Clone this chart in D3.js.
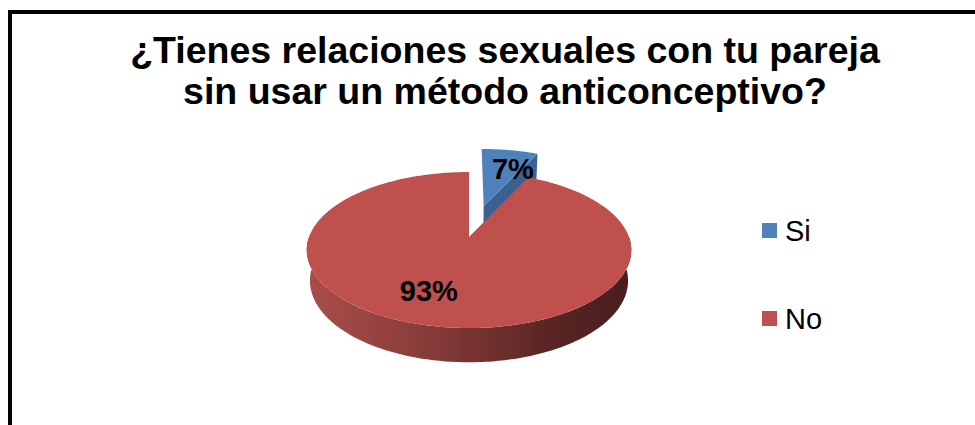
<!DOCTYPE html>
<html>
<head>
<meta charset="utf-8">
<script src="https://cdn.jsdelivr.net/npm/d3@7"></script>
<style>
  html, body { margin: 0; padding: 0; background: #fff; }
  svg { display: block; }
</style>
</head>
<body>
<svg id="chart" width="975" height="425"></svg>
<script>
// ---- data ----
const titleLines = ["¿Tienes relaciones sexuales con tu pareja", "sin usar un método anticonceptivo?"];
const categories = ["Si", "No"];
const values = [7, 93];
const valueLabels = ["7%", "93%"];

// ---- styling ----
const topColors = ["#4F81BD", "#C0504D"];
const cutColors = ["#3A6190", "#8E3B38"];
const explosion = [0.45, 0];
const font = "'Liberation Sans', Arial, Helvetica, sans-serif";

const svg = d3.select("#chart");

// frame of the chart area
svg.append("path")
  .attr("d", "M10,430 L10,12 L980,12")
  .attr("fill", "none")
  .attr("stroke", "#000")
  .attr("stroke-width", 4);

// title
svg.append("g").selectAll("text")
  .data(titleLines)
  .join("text")
  .attr("x", 505)
  .attr("y", (d, i) => 63 + i * 41)
  .attr("text-anchor", "middle")
  .attr("font-family", font)
  .attr("font-weight", "bold")
  .attr("font-size", 37.5)
  .attr("fill", "#000")
  .text(d => d);

// ---- simple perspective camera for the 3D pie ----
const view = { cx: 469, cy: 237, s: 160, D: 5.28, phi: Math.asin(0.474), h: 0.22 };
const cphi = Math.cos(view.phi), sphi = Math.sin(view.phi);
function project([x, y, z]) {
  const depth = y * cphi - z * sphi + view.D;
  const Y = y * sphi + z * cphi;
  return [view.cx + view.s * view.D * x / depth, view.cy - view.s * view.D * Y / depth];
}
const line = d3.line();

function rimPoints(a0, a1, z, o) {
  const n = Math.max(2, Math.ceil((a1 - a0) / (Math.PI / 180)) + 1);
  return d3.range(n).map(i => {
    const a = a0 + (a1 - a0) * i / (n - 1);
    return [o[0] + Math.sin(a), o[1] + Math.cos(a), z];
  });
}

const arcs = d3.pie().sort(null).value(d => d)(values);
arcs.forEach((d, i) => {
  const mid = (d.startAngle + d.endAngle) / 2;
  d.offset = [explosion[i] * Math.sin(mid), explosion[i] * Math.cos(mid)];
  d.index = i;
});

// side shading, lit from the left
const defs = svg.append("defs");
const xl = project([-1, 0, 0])[0], xr = project([1, 0, 0])[0];
const grad = defs.append("linearGradient")
  .attr("id", "sideNo")
  .attr("gradientUnits", "userSpaceOnUse")
  .attr("x1", xl).attr("x2", xr).attr("y1", 0).attr("y2", 0);
[[0, "#A84D49"], [0.3, "#8F3F3C"], [0.55, "#723130"], [0.8, "#542322"], [1, "#4A1E1D"]]
  .forEach(([o, c]) => grad.append("stop").attr("offset", o).attr("stop-color", c));

const pie = svg.append("g");
const h = view.h;

// draw far slices first, so nearer ones cover them
const order = arcs.slice().sort((a, b) => b.offset[1] - a.offset[1]);
order.forEach(d => {
  const o = d.offset;
  const g = pie.append("g");
  const centerTop = [o[0], o[1], 0], centerBot = [o[0], o[1], -h];

  // radial cut face at the clockwise edge (faces the viewer when on the far side)
  const a1 = d.endAngle;
  if (Math.cos(a1) > 0 && d.endAngle - d.startAngle < Math.PI) {
    const rt = [o[0] + Math.sin(a1), o[1] + Math.cos(a1), 0];
    const rb = [rt[0], rt[1], -h];
    g.append("path")
      .attr("d", line([centerTop, rt, rb, centerBot].map(project)) + "Z")
      .attr("fill", cutColors[d.index]);
  }

  // outer wall: only the front half is visible
  const s0 = Math.max(d.startAngle, Math.PI / 2), s1 = Math.min(d.endAngle, 3 * Math.PI / 2);
  if (s1 > s0) {
    const top = rimPoints(s0, s1, 0, o), bot = rimPoints(s0, s1, -h, o).reverse();
    g.append("path")
      .attr("d", line(top.concat(bot).map(project)) + "Z")
      .attr("fill", "url(#sideNo)");
  }

  // top face
  const pts = [centerTop].concat(rimPoints(d.startAngle, d.endAngle, 0, o));
  g.append("path")
    .attr("d", line(pts.map(project)) + "Z")
    .attr("fill", topColors[d.index]);
});

// value labels placed inside each slice
const labelTurn = 7 * Math.PI / 180, labelR = 0.67;
pie.append("g").selectAll("text")
  .data(arcs)
  .join("text")
  .attr("transform", d => {
    const a = (d.startAngle + d.endAngle) / 2 + labelTurn;
    const p = project([d.offset[0] + labelR * Math.sin(a), d.offset[1] + labelR * Math.cos(a), 0]);
    return `translate(${p[0]},${p[1]})`;
  })
  .attr("text-anchor", "middle")
  .attr("dy", "0.36em")
  .attr("font-family", font)
  .attr("font-weight", "bold")
  .attr("font-size", 29)
  .attr("fill", "#000")
  .text((d, i) => valueLabels[i]);

// legend
const legend = svg.append("g").attr("transform", "translate(762,223)");
const item = legend.selectAll("g")
  .data(categories)
  .join("g")
  .attr("transform", (d, i) => `translate(0,${i * 88})`);
item.append("rect")
  .attr("width", 15).attr("height", 15)
  .attr("fill", (d, i) => topColors[i]);
item.append("text")
  .attr("x", 23)
  .attr("y", 18)
  .attr("font-family", font)
  .attr("font-size", 29)
  .attr("fill", "#000")
  .text(d => d);
</script>
</body>
</html>
